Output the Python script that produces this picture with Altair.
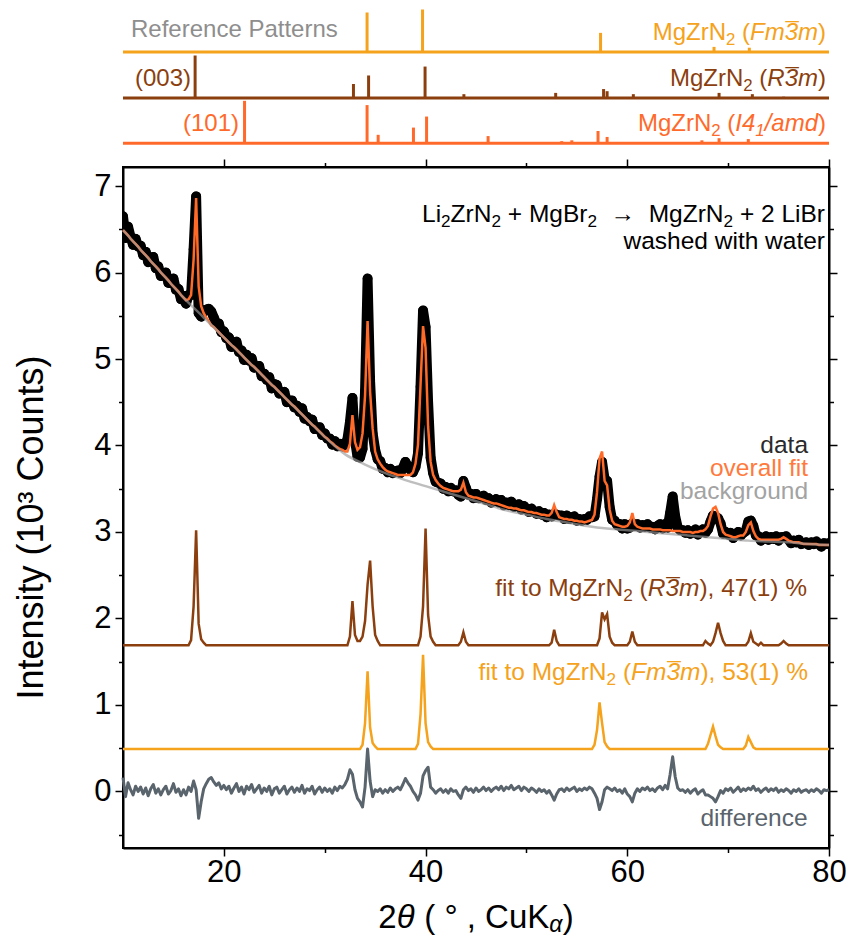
import altair as alt
import pandas as pd

# ---------------- measured pattern (grid 10..80 deg, step 0.25) ----------------
X_START = 10.0
X_STEP = 0.25

# overall fit (10^3 counts)
FIT = [
    6.49, 6.46, 6.43, 6.39, 6.36, 6.33, 6.30, 6.26,
    6.23, 6.20, 6.17, 6.13, 6.10, 6.07, 6.04, 6.00,
    5.97, 5.94, 5.91, 5.87, 5.84, 5.81, 5.78, 5.74,
    5.71, 5.68, 5.69, 5.74, 6.15, 6.86, 5.84, 5.61,
    5.53, 5.48, 5.44, 5.39, 5.37, 5.34, 5.31, 5.28,
    5.25, 5.22, 5.19, 5.16, 5.14, 5.11, 5.08, 5.05,
    5.02, 4.99, 4.96, 4.93, 4.91, 4.88, 4.85, 4.82,
    4.79, 4.76, 4.73, 4.70, 4.68, 4.65, 4.62, 4.59,
    4.56, 4.53, 4.50, 4.47, 4.45, 4.42, 4.39, 4.36,
    4.33, 4.30, 4.27, 4.24, 4.22, 4.19, 4.16, 4.13,
    4.10, 4.08, 4.05, 4.03, 4.00, 3.98, 3.96, 3.95,
    3.93, 3.93, 4.02, 4.35, 4.04, 3.95, 3.98, 4.14,
    4.58, 5.44, 4.62, 4.20, 3.93, 3.84, 3.79, 3.75,
    3.72, 3.70, 3.69, 3.68, 3.67, 3.66, 3.66, 3.66,
    3.66, 3.66, 3.66, 3.69, 3.79, 4.01, 4.70, 5.38,
    5.13, 4.22, 3.81, 3.66, 3.60, 3.56, 3.53, 3.51,
    3.50, 3.49, 3.48, 3.47, 3.47, 3.47, 3.49, 3.57,
    3.46, 3.42, 3.41, 3.40, 3.40, 3.39, 3.38, 3.37,
    3.36, 3.35, 3.34, 3.33, 3.33, 3.32, 3.31, 3.30,
    3.29, 3.28, 3.28, 3.27, 3.27, 3.26, 3.25, 3.25,
    3.24, 3.23, 3.23, 3.22, 3.22, 3.21, 3.20, 3.20,
    3.19, 3.19, 3.22, 3.31, 3.23, 3.17, 3.16, 3.15,
    3.15, 3.14, 3.14, 3.13, 3.13, 3.12, 3.12, 3.11,
    3.12, 3.13, 3.14, 3.20, 3.46, 3.85, 3.93, 3.59,
    3.54, 3.26, 3.13, 3.09, 3.08, 3.07, 3.06, 3.06,
    3.07, 3.11, 3.22, 3.09, 3.06, 3.05, 3.04, 3.04,
    3.04, 3.04, 3.03, 3.03, 3.03, 3.03, 3.02, 3.02,
    3.02, 3.02, 3.01, 3.01, 3.01, 3.01, 3.00, 3.00,
    3.00, 3.00, 2.99, 3.00, 3.00, 3.01, 3.01, 3.03,
    3.07, 3.18, 3.27, 3.29, 3.22, 3.09, 3.00, 2.97,
    2.96, 2.95, 2.94, 2.94, 2.95, 2.96, 2.96, 3.00,
    3.08, 3.11, 3.01, 2.95, 2.92, 2.91, 2.91, 2.91,
    2.91, 2.91, 2.91, 2.91, 2.91, 2.92, 2.94, 2.92,
    2.90, 2.89, 2.88, 2.88, 2.88, 2.87, 2.86, 2.86,
    2.86, 2.86, 2.86, 2.86, 2.85, 2.85, 2.85, 2.85,
    2.85,
]

# difference (data - fit)
DIFF = [
    0.16, -0.06, 0.10, 0.02, -0.04, 0.06, 0.00, 0.05,
    -0.03, 0.04, -0.05, 0.03, 0.08, -0.02, 0.03, -0.04,
    0.02, 0.06, -0.03, 0.01, 0.09, -0.01, 0.03, -0.05,
    0.02, -0.04, 0.05, 0.00, 0.12, 0.02, -0.31, -0.12,
    0.03, 0.09, 0.14, 0.16, 0.11, 0.07, 0.10, 0.03,
    0.07, 0.02, 0.06, -0.02, 0.04, 0.09, 0.00, 0.05,
    -0.03, 0.06, 0.02, 0.08, -0.01, 0.03, 0.07, -0.02,
    0.04, 0.00, 0.06, -0.04, 0.03, 0.05, -0.02, 0.02,
    0.06, -0.03, 0.02, 0.05, -0.01, 0.04, 0.00, 0.07,
    -0.02, 0.03, 0.01, 0.06, -0.03, 0.02, 0.05, -0.01,
    0.04, 0.00, 0.03, -0.02, 0.05, 0.01, 0.06, 0.04,
    0.08, 0.14, 0.25, 0.20, 0.02, -0.08, -0.12, -0.18,
    0.05, 0.49, 0.12, -0.06, 0.02, 0.00, 0.03, -0.02,
    0.02, -0.01, 0.04, 0.00, 0.03, 0.05, 0.02, 0.08,
    0.15, 0.10, 0.06, 0.00, -0.04, -0.10, -0.02, 0.18,
    0.24, 0.28, 0.05, 0.02, -0.02, 0.01, 0.03, -0.01,
    0.02, -0.02, 0.03, 0.00, 0.01, -0.04, -0.08, 0.02,
    0.05, 0.01, 0.03, -0.01, 0.04, 0.00, 0.02, 0.05,
    0.01, 0.04, 0.00, 0.03, 0.05, 0.02, 0.06, 0.01,
    0.05, 0.03, 0.07, 0.02, 0.04, 0.06, 0.01, 0.05,
    0.03, 0.00, 0.04, 0.02, -0.01, 0.03, 0.00, 0.02,
    -0.02, 0.01, -0.04, -0.10, -0.03, 0.02, 0.03, 0.00,
    0.04, 0.01, 0.03, 0.05, 0.00, 0.03, 0.01, 0.04,
    0.02, 0.05, 0.03, -0.02, -0.08, -0.21, -0.12, 0.02,
    0.05, 0.03, 0.01, 0.04, 0.00, 0.02, -0.02, 0.03,
    -0.03, -0.06, -0.12, -0.02, 0.03, 0.00, 0.04, 0.02,
    0.05, 0.01, 0.03, 0.00, 0.04, 0.06, 0.02, 0.07,
    0.03, 0.20, 0.40, 0.17, 0.04, 0.01, 0.02, -0.01,
    0.02, -0.02, 0.01, 0.03, -0.03, 0.00, 0.02, -0.04,
    -0.04, -0.06, -0.08, -0.12, -0.06, 0.01, -0.02, 0.03,
    0.01, 0.04, -0.01, 0.02, 0.05, 0.00, 0.03, 0.01,
    0.04, 0.02, 0.06, 0.01, 0.03, -0.01, 0.02, 0.04,
    0.00, 0.03, 0.01, 0.04, -0.01, 0.02, 0.00, 0.03,
    0.01, -0.02, 0.02, 0.00, 0.03, -0.01, 0.01, 0.02,
    -0.01, 0.02, 0.00, 0.03, 0.01, -0.02, 0.02, 0.01,
    0.02,
]

# background (knots every 2 deg, 10..80)
BG_X = [10, 12, 14, 16, 18, 20, 22, 24, 26, 28, 30, 32, 34, 36, 38, 40, 42, 44,
        46, 48, 50, 52, 54, 56, 58, 60, 62, 64, 66, 68, 70, 72, 74, 76, 78, 80]
BG_Y = [6.49, 6.23, 5.97, 5.71, 5.48, 5.25, 5.02, 4.79, 4.56, 4.33, 4.10, 3.90,
        3.78, 3.68, 3.60, 3.53, 3.46, 3.39, 3.32, 3.25, 3.20, 3.15, 3.11, 3.07,
        3.04, 3.02, 3.00, 2.98, 2.96, 2.94, 2.92, 2.90, 2.89, 2.88, 2.86, 2.85]

# phase components (offset baselines + peak heights at grid points)
R3M_BASE = 1.69
R3M_PEAKS = {
    16.75: 0.06, 17.0: 0.45, 17.25: 1.33, 17.5: 0.25, 17.75: 0.07, 18.0: 0.03,
    32.5: 0.10, 32.75: 0.51, 33.0: 0.12, 33.25: 0.05, 33.5: 0.05, 33.75: 0.10,
    34.0: 0.28, 34.25: 0.70, 34.5: 0.98, 34.75: 0.45, 35.0: 0.12, 35.25: 0.05,
    39.5: 0.10, 39.75: 0.45, 40.0: 1.35, 40.25: 0.35, 40.5: 0.10, 40.75: 0.04,
    43.5: 0.04, 43.75: 0.15, 44.0: 0.04,
    52.5: 0.03, 52.75: 0.18, 53.0: 0.05,
    57.25: 0.08, 57.5: 0.38, 57.75: 0.30, 58.0: 0.36, 58.25: 0.10, 58.5: 0.03,
    60.25: 0.04, 60.5: 0.16, 60.75: 0.04,
    67.75: 0.05, 68.0: 0.02, 68.5: 0.04, 68.75: 0.14, 69.0: 0.26, 69.25: 0.14, 69.5: 0.05,
    72.0: 0.04, 72.25: 0.14, 72.5: 0.04, 72.75: 0.02,
    73.25: 0.03,
    75.25: 0.02, 75.5: 0.05, 75.75: 0.02,
}
FM3M_BASE = 0.49
FM3M_PEAKS = {
    33.75: 0.05, 34.0: 0.30, 34.25: 0.90, 34.5: 0.25, 34.75: 0.07, 35.0: 0.03,
    39.25: 0.06, 39.5: 0.40, 39.75: 1.09, 40.0: 0.30, 40.25: 0.08, 40.5: 0.03,
    56.75: 0.05, 57.0: 0.22, 57.25: 0.54, 57.5: 0.30, 57.75: 0.08, 58.0: 0.03,
    68.0: 0.06, 68.25: 0.16, 68.5: 0.26, 68.75: 0.15, 69.0: 0.05, 69.25: 0.02,
    71.75: 0.04, 72.0: 0.14, 72.25: 0.08, 72.5: 0.02,
}

# reference patterns (2theta, relative intensity %)
REF_FM_POS = [34.2, 39.7, 57.35, 68.6, 72.1]
REF_FM_INT = [93, 100, 45, 12, 10]
REF_R_POS = [17.15, 32.85, 34.35, 39.95, 43.8, 52.9, 57.65, 58.0, 60.6, 69.1, 72.4, 75.5]
REF_R_INT = [100, 33, 53, 74, 9, 12, 21, 16, 9, 12, 9, 3]
REF_I_POS = [22.05, 34.2, 35.3, 38.8, 40.1, 46.2, 53.5, 54.5, 57.1, 58.0, 62.7, 67.4, 69.1, 72.0, 77.1]
REF_I_INT = [100, 90, 20, 37, 63, 17, 5, 7, 29, 15, 2, 7, 12, 10, 2]

# ---------------- styling / layout ----------------
FONT = "Liberation Sans"
C_FM = "#f5a21c"
C_R = "#8b3f0f"
C_I = "#ff6a2b"
C_FIT = "#ff6a28"
C_BG = "#9b9b9b"
C_DIFF = "#5a646c"
C_REF = "#8e8e8e"

W, H = 706, 681
Y_MIN, Y_MAX = -0.654, 7.22
REF_BASE_FM, REF_BASE_R, REF_BASE_I = 8.55, 8.018, 7.494
REF_SCALE = 0.00491  # y units per % of relative intensity
ANN = 24.5

# ---------------- tables ----------------
X = [round(X_START + X_STEP * i, 2) for i in range(len(FIT))]
DATA = [f + d for f, d in zip(FIT, DIFF)]
R_CURVE = [R3M_BASE + R3M_PEAKS.get(x, 0.0) for x in X]
F_CURVE = [FM3M_BASE + FM3M_PEAKS.get(x, 0.0) for x in X]

main_df = pd.DataFrame({"x": X, "fit": FIT, "diff": DIFF, "data": DATA,
                        "r3m": R_CURVE, "fm3m": F_CURVE})
bg_df = pd.DataFrame({"x": BG_X, "y": BG_Y})

ref_rows = []
for pos, inten, base, col in (
    [(p, i, REF_BASE_FM, C_FM) for p, i in zip(REF_FM_POS, REF_FM_INT)]
    + [(p, i, REF_BASE_R, C_R) for p, i in zip(REF_R_POS, REF_R_INT)]
    + [(p, i, REF_BASE_I, C_I) for p, i in zip(REF_I_POS, REF_I_INT)]
):
    ref_rows.append({"pos": pos, "base": base, "top": base + inten * REF_SCALE, "color": col})
ref_df = pd.DataFrame(ref_rows)
refbase_df = pd.DataFrame({"x0": [10, 10, 10], "x1": [80, 80, 80],
                           "base": [REF_BASE_FM, REF_BASE_R, REF_BASE_I],
                           "color": [C_FM, C_R, C_I]})

xs = alt.Scale(domain=[10, 80], nice=False, zero=False)
ys = alt.Scale(domain=[Y_MIN, Y_MAX], nice=False, zero=False)

X_TICKS = [20, 30, 40, 50, 60, 70, 80]
Y_TICKS = [-0.5, 0, 0.5, 1, 1.5, 2, 2.5, 3, 3.5, 4, 4.5, 5, 5.5, 6, 6.5, 7]

x_tick_size = {"condition": {"test": "datum.value % 20 === 0", "value": 8}, "value": 4.5}
y_tick_size = {"condition": {"test": "datum.value % 1 === 0", "value": 8}, "value": 4.5}

x_axis_bottom = alt.Axis(values=X_TICKS, orient="bottom", title=None, grid=False,
                         labelExpr="datum.value % 20 === 0 ? format(datum.value, 'd') : ''",
                         tickSize=x_tick_size, labelFontSize=31, labelPadding=1,
                         labelFlush=False, labelOverlap=False)
x_axis_top = alt.Axis(values=X_TICKS, orient="top", title=None, grid=False, labels=False,
                      tickSize=x_tick_size)
y_axis_left = alt.Axis(values=Y_TICKS, orient="left", title="Intensity (10³ Counts)", grid=False,
                       labelExpr="datum.value % 1 === 0 ? format(datum.value, 'd') : ''",
                       tickSize=y_tick_size, labelFontSize=31, labelPadding=4,
                       labelFlush=False, labelOverlap=False,
                       titleFontSize=36, titleFontWeight="normal",
                       titleX=-73, titleY=360, titleAngle=270,
                       titleBaseline="bottom", titleAlign="center")
y_axis_right = alt.Axis(values=Y_TICKS, orient="right", title=None, grid=False, labels=False,
                        tickSize=y_tick_size)

base = alt.Chart(main_df)


def xq(field="x", axis=None):
    return alt.X(f"{field}:Q", scale=xs, axis=axis)


def yq(field, axis=None):
    return alt.Y(f"{field}:Q", scale=ys, axis=axis)


data_line = base.mark_line(color="black", strokeWidth=10, strokeJoin="round",
                           strokeCap="round", clip=True).encode(x=xq(), y=yq("data"))
data_pts = base.mark_circle(size=95, color="black", opacity=1, clip=True).encode(
    x=xq(axis=x_axis_bottom), y=yq("data", y_axis_left))
fit_line = base.mark_line(color=C_FIT, strokeWidth=2.5).encode(x=xq(), y=yq("fit"))
bg_line = alt.Chart(bg_df).mark_line(color=C_BG, strokeWidth=2.5, opacity=0.65,
                                     interpolate="monotone").encode(
    x=xq(axis=x_axis_top), y=yq("y", y_axis_right))
r_line = base.mark_line(color=C_R, strokeWidth=2.5).encode(x=xq(), y=yq("r3m"))
f_line = base.mark_line(color=C_FM, strokeWidth=2.5).encode(x=xq(), y=yq("fm3m"))
d_line = base.mark_line(color=C_DIFF, strokeWidth=3, strokeJoin="round").encode(
    x=xq(), y=yq("diff"))

ref_baselines = alt.Chart(refbase_df).mark_rule(strokeWidth=3).encode(
    x=xq("x0"), x2="x1:Q", y=yq("base"), color=alt.Color("color:N", scale=None))
ref_sticks = alt.Chart(ref_df).mark_rule(strokeWidth=3).encode(
    x=xq("pos"), y=yq("base"), y2="top:Q", color=alt.Color("color:N", scale=None))

# ---------------- rich text helper ----------------
CW = {' ': 278, '\u00a0': 278, '(': 333, ')': 333, '%': 889, '+': 584, ',': 278, '/': 278,
      '°': 400, '→': 1000, '¯': 552, 'θ': 556, 'α': 578,
      'A': 667, 'B': 667, 'C': 722, 'D': 722, 'E': 667, 'F': 611, 'I': 278, 'K': 667,
      'L': 556, 'M': 833, 'N': 722, 'P': 667, 'R': 722, 'Z': 611,
      'a': 556, 'b': 556, 'c': 500, 'd': 556, 'e': 556, 'f': 278, 'g': 556, 'h': 556,
      'i': 222, 'k': 500, 'l': 222, 'm': 833, 'n': 556, 'o': 556, 'p': 556, 'r': 333,
      's': 500, 't': 278, 'u': 556, 'v': 500, 'w': 722, 'y': 500}
DUMMY = pd.DataFrame({"k": [0]})


def tw(s, size):
    return sum(CW.get(c, 556) for c in s) * size / 1000.0


def rich(parts, x, y, size, color, align="right", sub_dy=0.2):
    items = []
    for text, kind in parts:
        small = kind in ("s", "si")
        fs = size * 0.7 if small else size
        items.append((text, kind, fs, tw(text, fs)))
    total = sum(it[3] for it in items)
    if align == "right":
        cx = x - total
    elif align == "center":
        cx = x - total / 2
    else:
        cx = x
    layers = []
    for text, kind, fs, w in items:
        stripped = text.strip(" ")
        lead = len(text) - len(text.lstrip(" "))
        draw = stripped.replace(" ", "\u00a0")
        px = cx + lead * CW[' '] * fs / 1000.0
        italic = kind in ("i", "si", "io")
        dy = sub_dy * size if kind in ("s", "si") else 0
        kw = dict(align="left", baseline="alphabetic", font=FONT, fontSize=fs,
                  fontStyle="italic" if italic else "normal", color=color, dy=dy)
        if draw:
            layers.append(alt.Chart(DUMMY).mark_text(text=draw, **kw).encode(
                x=alt.value(px), y=alt.value(y)))
        if kind == "io":
            layers.append(alt.Chart(DUMMY).mark_text(text="¯", **kw).encode(
                x=alt.value(px + 0.03 * size), y=alt.value(y)))
        cx += w
    return layers


texts = []
# reference pattern labels
texts += rich([("Reference Patterns", "n")], 8, -130, 24, C_REF, align="left")
texts += rich([("MgZrN", "n"), ("2", "s"), (" (", "n"), ("Fm", "i"), ("3", "io"),
               ("m", "i"), (")", "n")], 703, -127, 24, C_FM)
texts += rich([("(003)", "n")], 68, -81, 24, C_R)
texts += rich([("MgZrN", "n"), ("2", "s"), (" (", "n"), ("R", "i"), ("3", "io"),
               ("m", "i"), (")", "n")], 703, -81, 24, C_R)
texts += rich([("(101)", "n")], 116, -36, 24, C_I)
texts += rich([("MgZrN", "n"), ("2", "s"), (" (", "n"), ("I", "i"), ("4", "i"),
               ("1", "si"), ("/amd", "i"), (")", "n")], 703, -36, 24, C_I)
# main annotations
texts += rich([("Li", "n"), ("2", "s"), ("ZrN", "n"), ("2", "s"), (" + MgBr", "n"),
               ("2", "s"), ("  →  MgZrN", "n"), ("2", "s"), (" + 2 LiBr", "n")],
              702, 55, ANN, "black")
texts += rich([("washed with water", "n")], 702, 82, ANN, "black")
texts += rich([("data", "n")], 685, 286, ANN, "#2a2a2a")
texts += rich([("overall fit", "n")], 685, 309, ANN, "#ff7a3c")
texts += rich([("background", "n")], 685, 332, ANN, "#a3a3a3")
texts += rich([("fit to MgZrN", "n"), ("2", "s"), (" (", "n"), ("R", "i"), ("3", "io"),
               ("m", "i"), ("), 47(1) %", "n")], 684, 429, ANN, C_R)
texts += rich([("fit to MgZrN", "n"), ("2", "s"), (" (", "n"), ("Fm", "i"), ("3", "io"),
               ("m", "i"), ("), 53(1) %", "n")], 685, 513, ANN, C_FM)
texts += rich([("difference", "n")], 685, 659, ANN, C_DIFF)
# x axis title
texts += rich([("2", "n"), ("θ", "i"), (" ( ° , CuK", "n"), ("α", "si"), (")", "n")],
              W / 2, 761, 33, "black", align="center", sub_dy=0.13)

chart = alt.layer(
    ref_baselines, ref_sticks,
    data_line, data_pts, fit_line, bg_line, r_line, f_line, d_line,
    *texts,
).resolve_axis(x="independent", y="independent").properties(
    width=W, height=H,
    autosize=alt.AutoSizeParams(type="none"),
    padding={"left": 123, "top": 167, "right": 20, "bottom": 91},
    background="white",
).configure_view(stroke="black", strokeWidth=2).configure_axis(
    domainColor="black", domainWidth=2, tickColor="black", tickWidth=1.5,
    labelFont=FONT, titleFont=FONT, labelColor="black", titleColor="black",
)

chart.save("out.html", embed_options={"renderer": "svg", "actions": False})
